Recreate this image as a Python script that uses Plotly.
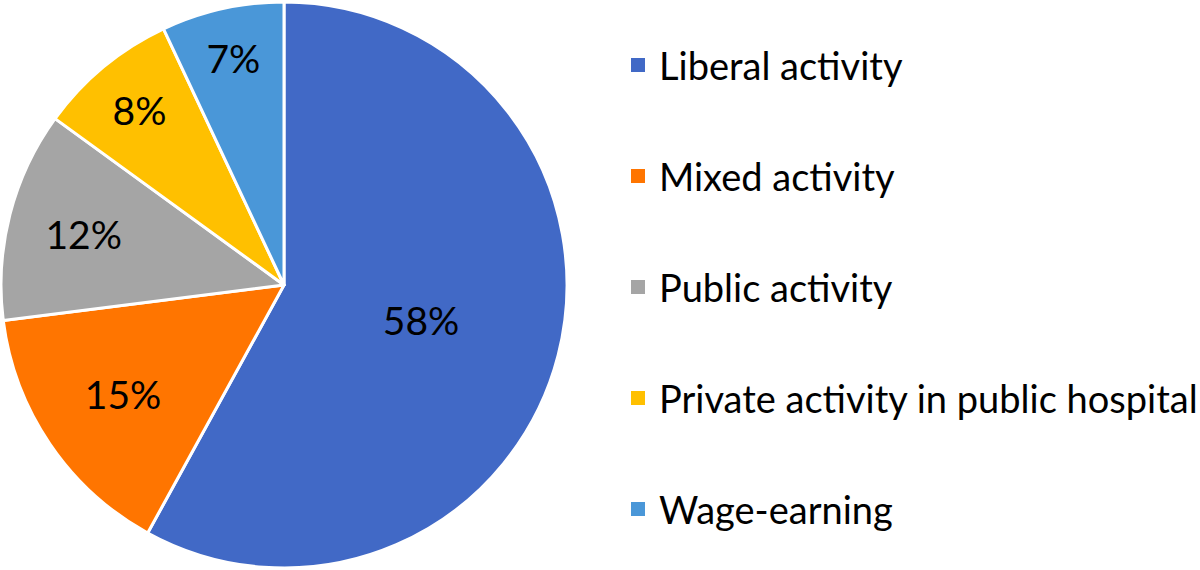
import plotly.graph_objects as go

labels = ["Liberal activity", "Mixed activity", "Public activity",
          "Private activity in public hospital", "Wage-earning"]
values = [58, 15, 12, 8, 7]
colors = ["#4169C6", "#FF7500", "#A5A5A5", "#FFC000", "#4A97D8"]

FONT = "Lato"
W, H = 1200, 570

fig = go.Figure()
fig.add_trace(go.Pie(
    labels=labels, values=values, sort=False, direction="clockwise", rotation=0,
    marker=dict(colors=colors, line=dict(color="white", width=3)),
    texttemplate="%{value}%", textposition="inside", insidetextorientation="horizontal",
    textfont=dict(family=FONT, size=39, color="black"),
    domain=dict(x=[1 / W, 567 / W], y=[2 / H, 568 / H]),
    showlegend=False, hoverinfo="label+percent",
))

# manual legend (large vertical spacing as in reference)
leg_y = [65, 176, 287, 398, 509]
for lab, col, yy in zip(labels, colors, leg_y):
    fig.add_shape(type="rect", xref="paper", yref="paper",
                  x0=631 / W, x1=645 / W, y0=1 - (yy + 7) / H, y1=1 - (yy - 7) / H,
                  fillcolor=col, line=dict(width=0))
    fig.add_annotation(x=657 / W, y=1 - yy / H, xref="paper", yref="paper",
                       text=lab, showarrow=False, xanchor="left", yanchor="middle",
                       font=dict(family=FONT, size=38, color="black"))

fig.update_layout(width=W, height=H, margin=dict(l=0, r=0, t=0, b=0),
                  paper_bgcolor="white", plot_bgcolor="white")
fig.write_html("out.html", config={"displayModeBar": False},
               post_script="document.body.style.margin='0px';")
